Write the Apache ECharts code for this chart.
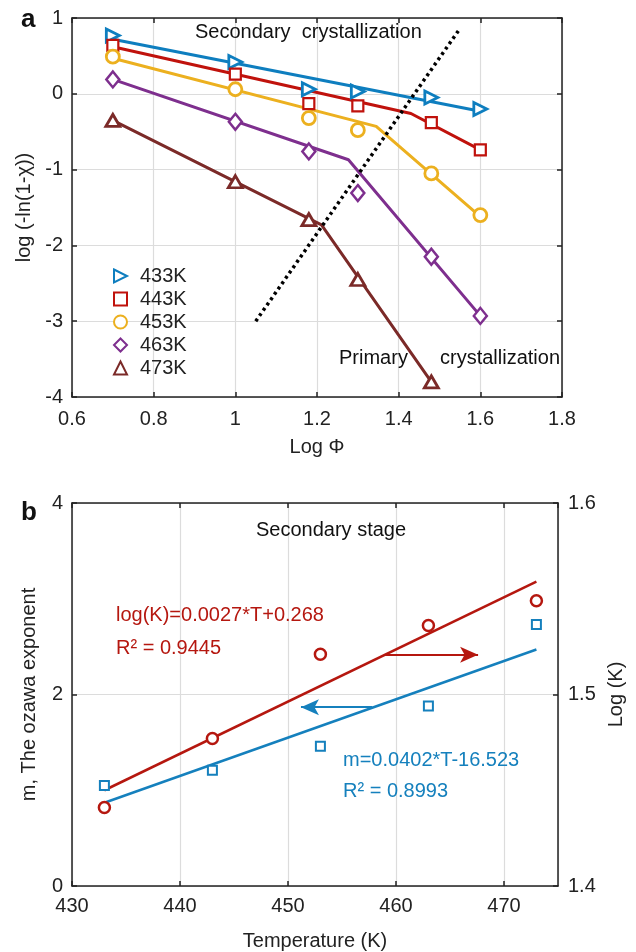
<!DOCTYPE html>
<html>
<head>
<meta charset="utf-8">
<script src="https://cdn.jsdelivr.net/npm/echarts@6/dist/echarts.min.js"></script>
<style>html,body{margin:0;padding:0;background:#fff}#c{width:636px;height:952px}</style>
</head>
<body>
<div id="c"></div>
<script>
// ---------- Panel a data ----------
const logPhi = [0.7, 1.0, 1.18, 1.3, 1.48, 1.6];
const k433 = [0.77, 0.42, 0.06, 0.03, -0.05, -0.2];
const k443 = [0.64, 0.26, -0.13, -0.16, -0.38, -0.74];
const k453 = [0.49, 0.06, -0.32, -0.48, -1.05, -1.6];
const k463 = [0.19, -0.37, -0.76, -1.31, -2.15, -2.93];
const k473 = [-0.35, -1.16, -1.66, -2.45, -3.8];
// fitted line break points [x, y]
const fit433 = [[0.7, 0.72], [1.6, -0.23]];
const fit443 = [[0.7, 0.62], [1.43, -0.26], [1.6, -0.74]];
const fit453 = [[0.7, 0.47], [1.345, -0.43], [1.6, -1.62]];
const fit463 = [[0.7, 0.19], [1.277, -0.87], [1.6, -2.93]];
const fit473 = [[0.7, -0.35], [1.211, -1.73], [1.48, -3.8]];
const boundary = [[1.05, -3.0], [1.55, 0.86]];
const seriesNames = ['433K', '443K', '453K', '463K', '473K'];

// ---------- Panel b data ----------
const temps = [433, 443, 453, 463, 473];
const mExp = [1.05, 1.21, 1.46, 1.88, 2.73];
const logK = [1.441, 1.477, 1.521, 1.536, 1.549];
const mFitEnds = [0.87, 2.47];
const logKFitEnds = [1.450, 1.559];
const tFitEnds = [433, 473];

const FONT = 'Arial, "Liberation Sans", sans-serif';
const C = {b:'#0e7ebf', r:'#c0120c', y:'#ecb01f', p:'#7e2f8e', br:'#7b2a28'};
const BR = '#b5170f', BB = '#1580bd';
const triRight = 'path://M0,0 L10,5 L0,10 Z';

function pairs(xs, ys){ return ys.map((v,i)=>[xs[i], v]); }

const FS = 20;
const tickLbl = {color:'#222', fontSize:FS, fontFamily:FONT};
const axLine = {onZero:false, lineStyle:{color:'#222', width:1.5}};
const grid = {lineStyle:{color:'#dcdcdc', width:1.2}};
const tick = {inside:true, length:5, lineStyle:{color:'#222', width:1.5}};

const chart = echarts.init(document.getElementById('c'), null, {renderer:'canvas'});

function markerSeries(name, sym, color, data, size, lw){
  return {name, type:'scatter', xAxisIndex:0, yAxisIndex:0, data, symbol:sym, symbolSize:size,
    itemStyle:{color:'#fff', opacity:1, borderColor:color, borderWidth:lw},
    emphasis:{disabled:true}, z:5};
}
function fitSeries(color, data){
  return {type:'line', xAxisIndex:0, yAxisIndex:0, data, showSymbol:false, symbol:'none',
    lineStyle:{color, width:3}, z:3, silent:true};
}
function txt(left, top, text, fill, extra){
  return {type:'text', left, top, z:100, style:Object.assign({text, font:FS+'px '+FONT, fill}, extra||{})};
}

const option = {
  animation:false,
  backgroundColor:'#fff',
  grid:[
    {left:72, top:18, width:490, height:379},
    {left:72, top:503, width:486, height:383}
  ],
  xAxis:[
    {gridIndex:0, type:'value', min:0.6, max:1.8, interval:0.2, position:'bottom',
     axisLine:axLine, axisTick:tick, splitLine:grid,
     axisLabel:{...tickLbl, margin:12, formatter:v=>String(+v.toFixed(1))},
     name:'Log Φ', nameLocation:'middle', nameGap:40, nameTextStyle:{...tickLbl}},
    {gridIndex:0, type:'value', min:0.6, max:1.8, interval:0.2, position:'top',
     axisLine:axLine, axisTick:tick, splitLine:{show:false}, axisLabel:{show:false}},
    {gridIndex:1, type:'value', min:430, max:475, interval:10, position:'bottom',
     axisLine:axLine, axisTick:tick, splitLine:grid,
     axisLabel:{...tickLbl, margin:10, showMaxLabel:false},
     name:'Temperature (K)', nameLocation:'middle', nameGap:45, nameTextStyle:{...tickLbl}},
    {gridIndex:1, type:'value', min:430, max:475, interval:10, position:'top',
     axisLine:axLine, axisTick:tick, splitLine:{show:false}, axisLabel:{show:false}}
  ],
  yAxis:[
    {gridIndex:0, type:'value', min:-4, max:1, interval:1, position:'left',
     axisLine:axLine, axisTick:tick, splitLine:grid,
     axisLabel:{...tickLbl, margin:9},
     name:'log (-ln(1-χ))', nameLocation:'middle', nameGap:33, nameTextStyle:{...tickLbl}},
    {gridIndex:0, type:'value', min:-4, max:1, interval:1, position:'right',
     axisLine:axLine, axisTick:tick, splitLine:{show:false}, axisLabel:{show:false}},
    {gridIndex:1, type:'value', min:0, max:4, interval:2, position:'left',
     axisLine:axLine, axisTick:tick, splitLine:grid,
     axisLabel:{...tickLbl, margin:9},
     name:'m, The ozawa exponent', nameLocation:'middle', nameGap:33, nameTextStyle:{...tickLbl}},
    {gridIndex:1, type:'value', min:1.4, max:1.6, interval:0.1, position:'right',
     axisLine:axLine, axisTick:tick, splitLine:{show:false},
     axisLabel:{...tickLbl, margin:10, formatter:v=>v.toFixed(1)},
     name:'Log (K)', nameLocation:'middle', nameGap:47, nameRotate:90, nameTextStyle:{...tickLbl}}
  ],
  legend:{
    orient:'vertical', left:108, top:261, itemGap:3, itemWidth:13, itemHeight:13,
    data:seriesNames, textStyle:{...tickLbl, padding:[0,0,0,8]}
  },
  series:[
    fitSeries(C.b, fit433), fitSeries(C.r, fit443), fitSeries(C.y, fit453),
    fitSeries(C.p, fit463), fitSeries(C.br, fit473),
    {type:'line', xAxisIndex:0, yAxisIndex:0, data:boundary, showSymbol:false, symbol:'none',
     lineStyle:{color:'#000', width:3.5, type:[3,3.5]}, z:4, silent:true},
    markerSeries('433K', triRight, C.b, pairs(logPhi, k433), [13,13], 2.8),
    markerSeries('443K', 'rect', C.r, pairs(logPhi, k443), [11,11], 2.2),
    markerSeries('453K', 'circle', C.y, pairs(logPhi, k453), 13, 2.8),
    markerSeries('463K', 'diamond', C.p, pairs(logPhi, k463), [13,16], 2.5),
    markerSeries('473K', 'triangle', C.br, pairs(logPhi, k473), [14,12], 2.8),
    // panel b
    {type:'line', xAxisIndex:2, yAxisIndex:3, data:pairs(tFitEnds, logKFitEnds), showSymbol:false, symbol:'none',
     lineStyle:{color:BR, width:2.5}, z:3, silent:true,
     markLine:{silent:true, symbol:['none','arrow'], symbolSize:[12,18], lineStyle:{color:BR, width:2, type:'solid'}, label:{show:false},
       data:[[{coord:[458.9,1.5207]},{coord:[467.6,1.5207]}]]}},
    {type:'line', xAxisIndex:2, yAxisIndex:2, data:pairs(tFitEnds, mFitEnds), showSymbol:false, symbol:'none',
     lineStyle:{color:BB, width:2.5}, z:3, silent:true,
     markLine:{silent:true, symbol:['none','arrow'], symbolSize:[12,18], lineStyle:{color:BB, width:2, type:'solid'}, label:{show:false},
       data:[[{coord:[457.8,1.867]},{coord:[451.2,1.867]}]]}},
    {name:'logK', type:'scatter', xAxisIndex:2, yAxisIndex:3, data:pairs(temps, logK), symbol:'circle', symbolSize:11,
     itemStyle:{color:'#fff', opacity:1, borderColor:BR, borderWidth:2.5}, z:5},
    {name:'m', type:'scatter', xAxisIndex:2, yAxisIndex:2, data:pairs(temps, mExp), symbol:'rect', symbolSize:9,
     itemStyle:{color:'#fff', opacity:1, borderColor:BB, borderWidth:2}, z:5}
  ],
  graphic:[
    txt(21, 7, 'a', '#111', {font:'bold 26px '+FONT}),
    txt(21, 500, 'b', '#111', {font:'bold 26px '+FONT}),
    txt(195, 22, 'Secondary  crystallization', '#111'),
    txt(339, 348, 'Primary', '#111'),
    txt(440, 348, 'crystallization', '#111'),
    txt(256, 520, 'Secondary stage', '#111'),
    txt(116, 605, 'log(K)=0.0027*T+0.268', BR),
    txt(116, 638, 'R² = 0.9445', BR),
    txt(343, 750, 'm=0.0402*T-16.523', BB),
    txt(343, 781, 'R² = 0.8993', BB)
  ]
};
chart.setOption(option);
</script>
</body>
</html>
